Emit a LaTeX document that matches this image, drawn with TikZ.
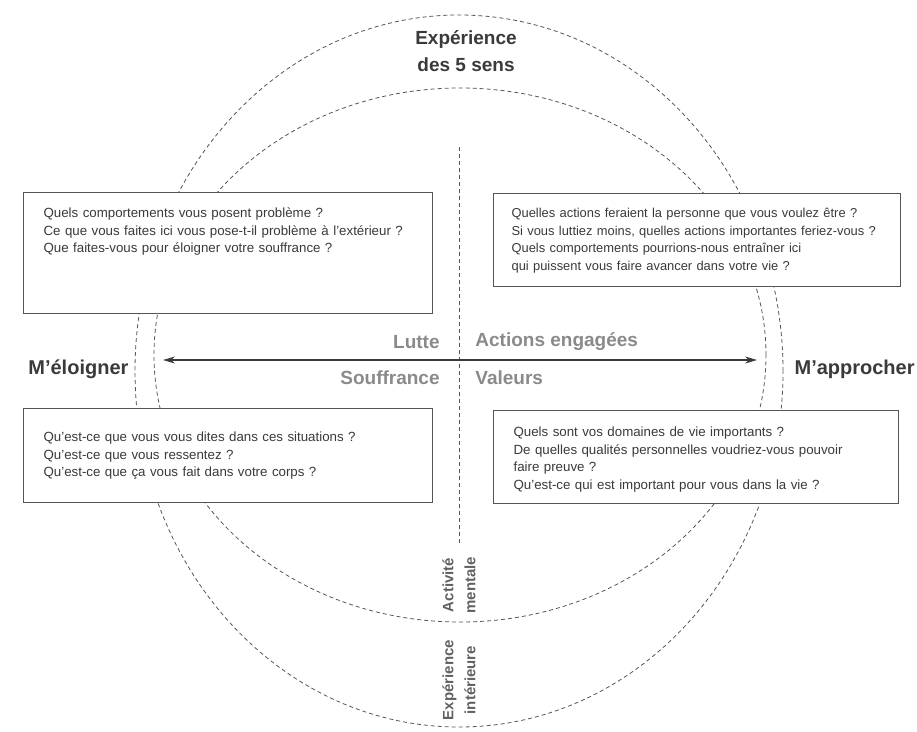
\documentclass[tikz,border=0pt]{standalone}
\usepackage{fontspec}
\setmainfont{Liberation Sans}
\usetikzlibrary{arrows.meta}
\definecolor{darkink}{HTML}{3A3A3A}
\definecolor{midink}{HTML}{8A8A8A}
\definecolor{lineink}{HTML}{555555}
\begin{document}
\begin{tikzpicture}[x=1pt,y=-1pt,thick,
    sense/.style={lineink,line width=0.8pt,dash pattern=on 4pt off 3pt},
    qbox/.style={draw=lineink,line width=1.2pt,fill=white,anchor=north west,inner xsep=20pt,inner ysep=0pt,
      align=left,text=darkink,font=\fontsize{13.3}{17.5}\selectfont},
    side/.style={text=darkink,font=\fontsize{20}{24}\selectfont\bfseries,inner sep=0pt,align=center},
    pole/.style={text=midink,font=\fontsize{19}{23}\selectfont\bfseries,inner sep=0pt},
    layer/.style={text=darkink!80,font=\fontsize{15}{22}\selectfont\bfseries,rotate=90,inner sep=0pt,align=center}]

    \useasboundingbox (0,0) rectangle (917,731);

    % --------------------------------------------------------- %
    % ------------- experience circles
    % --------------------------------------------------------- %
    \draw[sense] (459,371) ellipse [x radius=324pt, y radius=356pt];
    \draw[sense] (460,355) ellipse [x radius=306pt, y radius=267pt];
    \coordinate (vtop) at (459,147);
    \coordinate (vbot) at (459,545);
    \draw[sense] (vtop) -- (vbot);

    % --------------------------------------------------------- %
    % ------------- titles
    % --------------------------------------------------------- %
    \node[side,font=\fontsize{19}{27}\selectfont\bfseries] (senses) at (466,51) {Expérience\\des 5 sens};
    \node[layer] (mental) at (459,585) {Activité\\mentale};
    \node[layer] (inner) at (459,680) {Expérience\\intérieure};

    % --------------------------------------------------------- %
    % ------------ question boxes
    % --------------------------------------------------------- %
    % --- avoid : behaviours
    \node[qbox,text width=369pt,text height=25pt,text depth=96pt] (avoidact) at (23,192)
      {Quels comportements vous posent problème ?\\
       Ce que vous faites ici vous pose-t-il problème à l'extérieur ?\\
       Que faites-vous pour éloigner votre souffrance ?};
    % --- approach : actions
    \node[qbox,font=\fontsize{12.9}{17.5}\selectfont,inner xsep=18pt,text width=371pt,text height=24pt,text depth=69pt] (approachact) at (493,193)
      {Quelles actions feraient la personne que vous voulez être ?\\
       Si vous luttiez moins, quelles actions importantes feriez-vous ?\\
       Quels comportements pourrions-nous entraîner ici\\
       qui puissent vous faire avancer dans votre vie ?};
    % --- avoid : inner experience
    \node[qbox,text width=369pt,text height=33pt,text depth=61pt] (avoidfeel) at (23,408)
      {Qu'est-ce que vous vous dites dans ces situations ?\\
       Qu'est-ce que vous ressentez ?\\
       Qu'est-ce que ça vous fait dans votre corps ?};
    % --- approach : values
    \node[qbox,text width=365pt,text height=26pt,text depth=67pt] (approachval) at (493,410)
      {Quels sont vos domaines de vie importants ?\\
       De quelles qualités personnelles voudriez-vous pouvoir\\
       faire preuve ?\\
       Qu'est-ce qui est important pour vous dans la vie ?};

    % --------------------------------------------------------- %
    % ------------ axis
    % --------------------------------------------------------- %
    \node[side,anchor=west] (away) at (28,369) {M'éloigner};
    \node[side,anchor=east] (toward) at (915,369) {M'approcher};
    \coordinate (axisL) at (163,360);
    \coordinate (axisR) at (757,360);
    \draw[{Stealth[length=12pt,width=7pt]}-{Stealth[length=12pt,width=7pt]},darkink,line width=1.1pt] (axisL) -- (axisR);
    \node[pole,anchor=east] (struggle) at (440,342) {Lutte};
    \node[pole,anchor=west] (committed) at (475,342) {Actions engagées};
    \node[pole,anchor=east] (suffering) at (440,378) {Souffrance};
    \node[pole,anchor=west] (values) at (475,378) {Valeurs};

  \end{tikzpicture}
\end{document}
